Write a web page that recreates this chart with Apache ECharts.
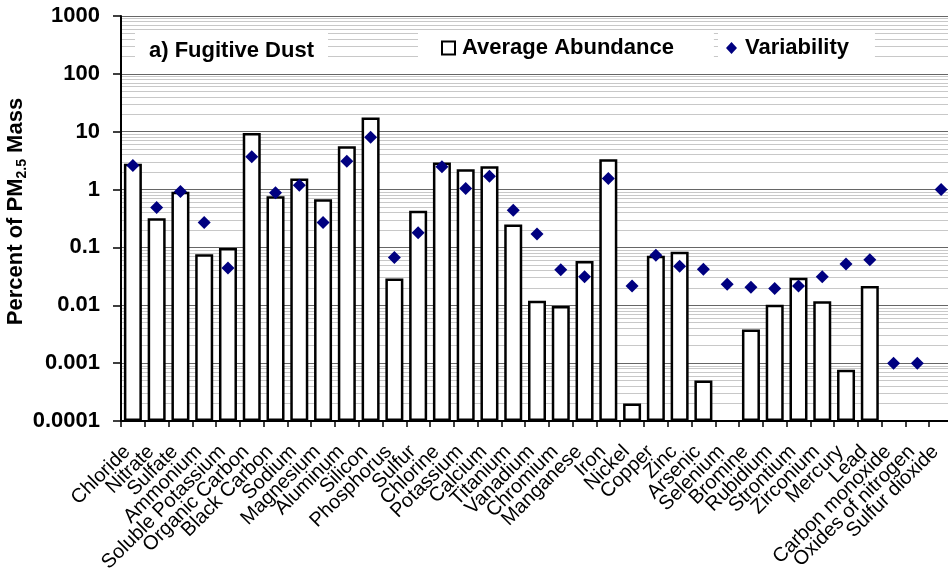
<!DOCTYPE html>
<html>
<head>
<meta charset="utf-8">
<script src="https://cdn.jsdelivr.net/npm/echarts@6/dist/echarts.min.js"></script>
<style>
html,body{margin:0;padding:0;background:#fff;}
#chart{width:948px;height:575px;}
</style>
</head>
<body>
<div id="chart"></div>
<script>
const categories = [
  'Chloride','Nitrate','Sulfate','Ammonium','Soluble Potassium','Organic Carbon','Black Carbon',
  'Sodium','Magnesium','Aluminum','Silicon','Phosphorus','Sulfur','Chlorine','Potassium','Calcium',
  'Titanium','Vanadium','Chromium','Manganese','Iron','Nickel','Copper','Zinc','Arsenic','Selenium',
  'Bromine','Rubidium','Strontium','Zirconium','Mercury','Lead','Carbon monoxide','Oxides of nitrogen',
  'Sulfur dioxide'
];
const averageAbundance = [
  2.8, 0.32, 0.92, 0.076, 0.098, 9.5, 0.77,
  1.56, 0.68, 5.6, 17.6, 0.029, 0.43, 2.94, 2.25, 2.54,
  0.25, 0.012, 0.0097, 0.058, 3.35, 0.0002, 0.072, 0.084, 0.0005, null,
  0.0038, 0.0102, 0.030, 0.0118, 0.00077, 0.0215, null, null,
  null
];
const variability = [
  2.6, 0.49, 0.93, 0.27, 0.044, 3.7, 0.88,
  1.19, 0.27, 3.1, 8.0, 0.067, 0.18, 2.47, 1.04, 1.70,
  0.44, 0.17, 0.041, 0.031, 1.55, 0.0215, 0.073, 0.0475, 0.042, 0.023,
  0.0206, 0.0195, 0.0215, 0.031, 0.0515, 0.061, 0.001, 0.001,
  1.0
];
const seriesNames = ['Average Abundance', 'Variability'];
const titleText = 'a) Fugitive Dust';
const yMin = 0.0001, yMax = 1000;

const FONT = 'Arial, "Liberation Sans", Helvetica, sans-serif';
const chart = echarts.init(document.getElementById('chart'), null, {renderer: 'canvas'});

const option = {
  animation: false,
  backgroundColor: '#fff',
  textStyle: {fontFamily: FONT},
  grid: {left: 121, top: 16, right: -5, bottom: 154, containLabel: false, outerBoundsMode: 'none'},
  title: {
    text: titleText,
    left: 135, top: 31,
    padding: [9, 14, 4, 14],
    backgroundColor: '#fff',
    textStyle: {fontSize: 22, fontWeight: 'bold', color: '#000', fontFamily: FONT}
  },
  legend: [
    {
      data: [{name: seriesNames[0], icon: 'rect'}],
      left: 418, top: 31,
      padding: [6, 40, 7, 23],
      backgroundColor: '#fff',
      itemWidth: 13, itemHeight: 13,
      itemGap: 0,
      selectedMode: false,
      textStyle: {fontSize: 22, fontWeight: 'bold', color: '#000', fontFamily: FONT, padding: [0, 0, 0, 2]},
      itemStyle: {color: '#fff', borderColor: '#000', borderWidth: 2}
    },
    {
      data: [{name: seriesNames[1], icon: 'diamond'}],
      left: 718, top: 31,
      padding: [6, 26, 7, 8],
      backgroundColor: '#fff',
      itemWidth: 11, itemHeight: 12,
      selectedMode: false,
      textStyle: {fontSize: 22, fontWeight: 'bold', color: '#000', fontFamily: FONT, padding: [0, 0, 0, 3]},
      itemStyle: {color: '#000080', borderWidth: 0, opacity: 1}
    }
  ],
  xAxis: {
    type: 'category',
    data: categories,
    boundaryGap: true,
    axisLine: {show: true, onZero: false, lineStyle: {color: '#000', width: 2}},
    axisTick: {show: true, length: 6, interval: 0, lineStyle: {color: '#000', width: 1.5}},
    axisLabel: {
      interval: 0, rotate: 45, margin: 22, padding: [0, 8, 0, 0],
      fontSize: 20, color: '#000', fontFamily: FONT, hideOverlap: false
    },
    splitLine: {show: false}
  },
  yAxis: {
    type: 'log',
    logBase: 10,
    min: yMin, max: yMax,
    startValue: yMin,
    splitNumber: 7,
    name: '{a|Percent of PM}{b|2.5}{a| Mass}',
    nameLocation: 'middle',
    nameGap: 92,
    nameMoveOverlap: false,
    nameTextStyle: {
      padding: [0, 0, 0, 14],
      rich: {
        a: {fontSize: 22, fontWeight: 'bold', color: '#000', fontFamily: FONT, lineHeight: 26},
        b: {fontSize: 14, fontWeight: 'bold', color: '#000', fontFamily: FONT, lineHeight: 16, padding: [12, 0, 0, 0]}
      }
    },
    axisLine: {show: true, onZero: false, lineStyle: {color: '#000', width: 2}},
    axisTick: {show: true, length: 8, lineStyle: {color: '#000', width: 1.5}},
    axisLabel: {
      margin: 21, fontSize: 22, fontWeight: 'bold', color: '#000', fontFamily: FONT,
      formatter: function (v) { return String(Number(Number(v).toPrecision(6))); }
    },
    splitLine: {show: true, lineStyle: {color: '#666', width: 1}},
    minorTick: {show: false, splitNumber: 9},
    minorSplitLine: {show: true, lineStyle: {color: '#c8c8c8', width: 1}}
  },
  series: [
    {
      name: seriesNames[0],
      type: 'bar',
      data: averageAbundance,
      barWidth: 18,
      itemStyle: {color: '#fff', borderColor: '#000', borderWidth: 2.5},
      z: 2
    },
    {
      name: seriesNames[1],
      type: 'scatter',
      data: variability,
      symbol: 'diamond',
      symbolSize: 13,
      itemStyle: {color: '#000080', opacity: 1},
      z: 3
    }
  ]
};
chart.setOption(option);
</script>
</body>
</html>
